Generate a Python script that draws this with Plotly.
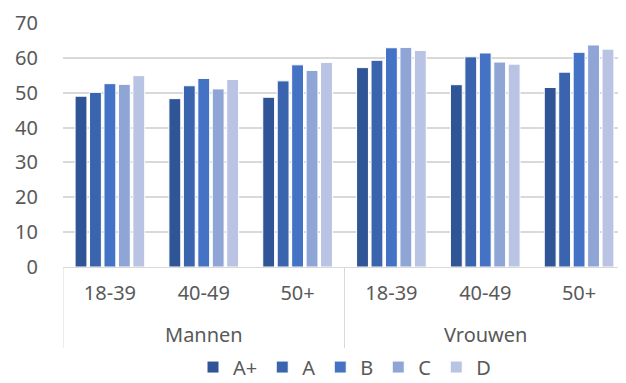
import plotly.graph_objects as go

genders = ["Mannen"] * 3 + ["Vrouwen"] * 3
ages = ["18-39", "40-49", "50+", "18-39", "40-49", "50+"]
series = ["A+", "A", "B", "C", "D"]
values = {
    "A+": [49.0, 48.3, 48.7, 57.2, 52.3, 51.5],
    "A":  [50.1, 52.0, 53.4, 59.3, 60.3, 55.9],
    "B":  [52.6, 54.1, 58.0, 62.9, 61.4, 61.6],
    "C":  [52.4, 51.1, 56.4, 63.0, 58.8, 63.7],
    "D":  [54.9, 53.8, 58.7, 62.1, 58.2, 62.5],
}
colors = {"A+": "#2f5597", "A": "#3a64ad", "B": "#4472c4", "C": "#8fa5d5", "D": "#b9c3e3"}

idx = list(range(len(ages)))
grid = "#d9d9d9"
txt = "#595959"
font = "Noto Sans, sans-serif"

fig = go.Figure()
for s in series:
    fig.add_trace(go.Bar(
        x=idx, y=values[s], name=s,
        marker=dict(color=colors[s], line=dict(color="white", width=1)),
    ))

# group labels and dividers derived from the category lists
groups = []
for i, g in enumerate(genders):
    if not groups or groups[-1][0] != g:
        groups.append([g, i, i])
    else:
        groups[-1][2] = i
for g, a, b in groups:
    fig.add_annotation(x=(a + b) / 2, xref="x", y=-0.275, yref="paper", text=g,
                       showarrow=False, yanchor="middle",
                       font=dict(family=font, size=20, color=txt))
bounds = sorted({a - 0.5 for g, a, b in groups} | {b + 0.5 for g, a, b in groups})
for xb in bounds:
    fig.add_shape(type="line", xref="x", yref="paper", x0=xb, x1=xb, y0=0, y1=-0.332,
                  line=dict(color=grid, width=1))

fig.update_layout(
    width=618, height=375,
    margin=dict(l=55, r=0, t=15, b=116, autoexpand=False),
    paper_bgcolor="white", plot_bgcolor="white",
    barmode="group", bargap=0.23, bargroupgap=0.18,
    font=dict(family=font, size=20, color=txt),
    showlegend=True,
    legend=dict(orientation="h", x=0.5, xanchor="center", y=-0.49, yanchor="bottom",
                font=dict(size=20, color=txt), itemwidth=30, traceorder="normal"),
    xaxis=dict(range=[-0.5, len(ages) - 0.5], tickvals=idx, ticktext=ages,
               showline=True, linecolor=grid, linewidth=1, showgrid=False, zeroline=False,
               tickfont=dict(size=20, color=txt), ticks="", automargin=False,
               ticklabelstandoff=8),
    yaxis=dict(range=[0, 70], dtick=10, showgrid=True, gridcolor=grid, gridwidth=1.5,
               zeroline=False, tickfont=dict(size=20, color=txt), ticks="",
               ticklabelstandoff=24, automargin=False),
)
fig.write_html("out.html")
